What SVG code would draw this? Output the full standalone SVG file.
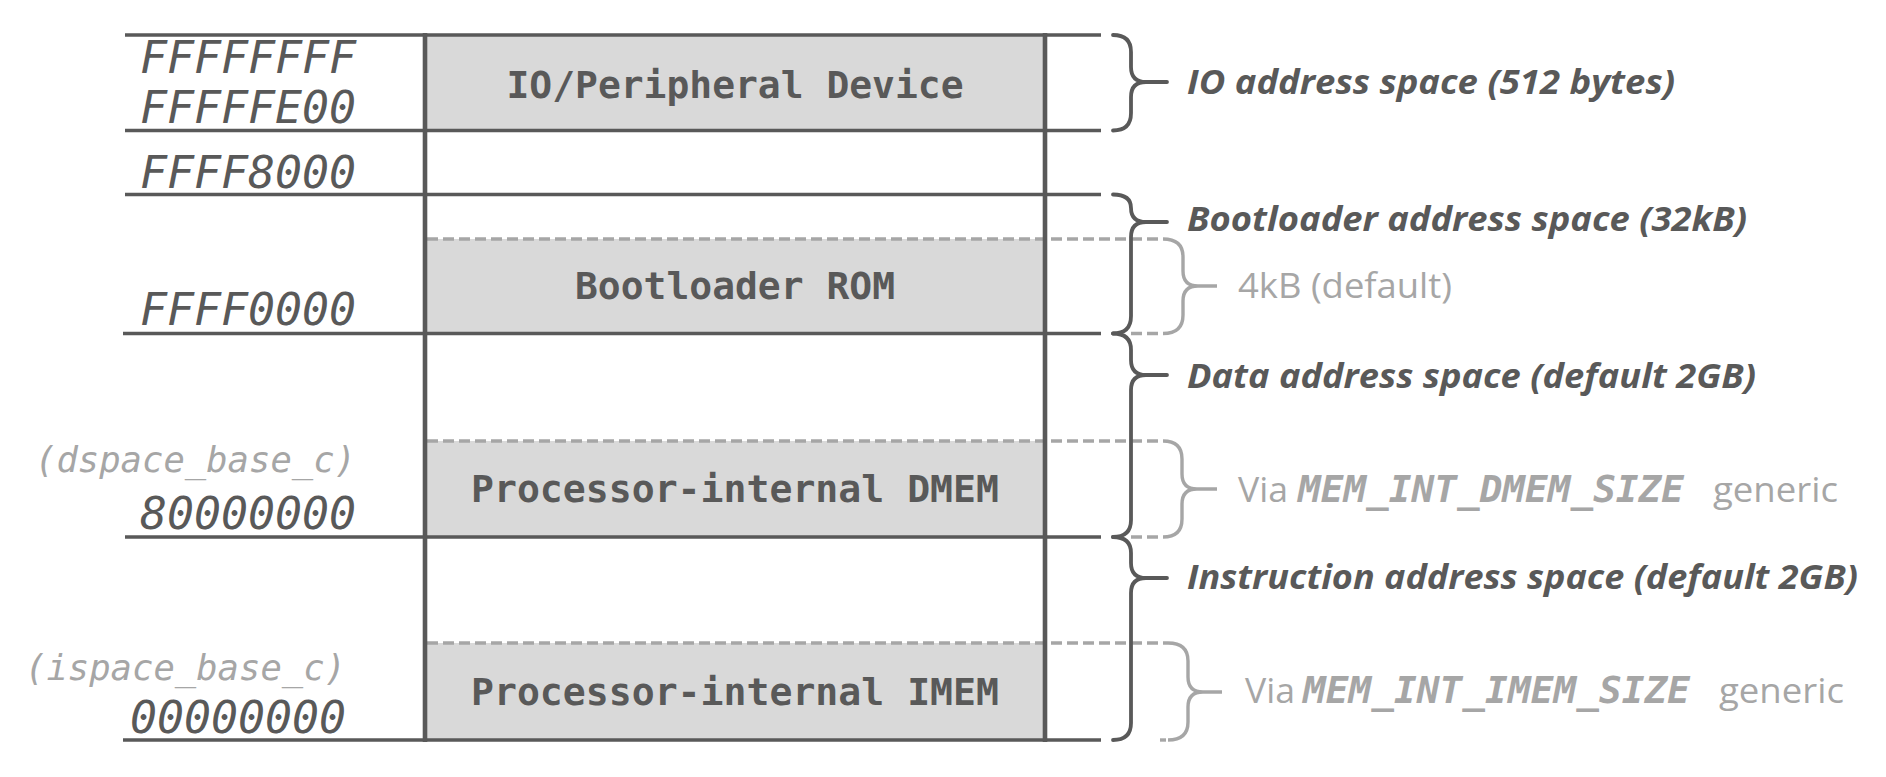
<svg xmlns="http://www.w3.org/2000/svg" width="1886" height="777" viewBox="0 0 1886 777">
<style>
.bg{fill:#ffffff}
.fill{fill:#d9d9d9;stroke:none}
.hl{stroke:#595959;stroke-width:3.6;fill:none}
.vl{stroke:#595959;stroke-width:4.6;fill:none}
.dash{stroke:#a6a6a6;stroke-width:3.4;fill:none;stroke-dasharray:11 5}
.brace{stroke:#595959;stroke-width:3.8;fill:none;stroke-linecap:round;stroke-linejoin:round}
.gbrace{stroke:#a6a6a6;stroke-width:3.4;fill:none;stroke-linecap:butt;stroke-linejoin:round}
.addr{font-family:"DejaVu Sans Mono","Liberation Mono",monospace;font-style:italic;font-size:44px;fill:#595959}
.gen{font-family:"DejaVu Sans Mono","Liberation Mono",monospace;font-style:italic;font-size:36px;fill:#a6a6a6}
.blk{font-family:"DejaVu Sans Mono","Liberation Mono",monospace;font-weight:bold;font-size:38px;fill:#595959;text-anchor:middle}
.lbl{font-family:"Open Sans","Noto Sans",sans-serif;font-weight:bold;font-style:italic;font-size:34px;fill:#595959}
.note{font-family:"Open Sans","Noto Sans",sans-serif;font-size:34px;fill:#a6a6a6}
.notem{font-family:"DejaVu Sans Mono","Liberation Mono",monospace;font-weight:bold;font-style:italic;font-size:37px;fill:#a6a6a6}
</style>
<rect class="bg" x="0" y="0" width="1886" height="777"/>

<g id="io-region">
  <rect class="fill" x="427" y="35" width="616" height="95.5"/>
  <text class="blk" x="735" y="98" textLength="457" lengthAdjust="spacingAndGlyphs">IO/Peripheral Device</text>
</g>
<g id="boot-region">
  <rect class="fill" x="427" y="239" width="616" height="94.5"/>
  <text class="blk" x="735" y="299" textLength="320" lengthAdjust="spacingAndGlyphs">Bootloader ROM</text>
</g>
<g id="dmem-region">
  <rect class="fill" x="427" y="441" width="616" height="96"/>
  <text class="blk" x="735" y="502" textLength="528" lengthAdjust="spacingAndGlyphs">Processor-internal DMEM</text>
</g>
<g id="imem-region">
  <rect class="fill" x="427" y="643" width="616" height="97"/>
  <text class="blk" x="735" y="705" textLength="528" lengthAdjust="spacingAndGlyphs">Processor-internal IMEM</text>
</g>

<g id="dashed-boundaries">
  <line class="dash" x1="427" y1="239" x2="1163" y2="239"/>
  <line class="dash" x1="427" y1="441" x2="1163" y2="441"/>
  <line class="dash" x1="427" y1="643" x2="1168" y2="643"/>
  <line class="dash" x1="1131" y1="333.5" x2="1163" y2="333.5" stroke-dasharray="8 5"/>
  <line class="dash" x1="1131" y1="537" x2="1163" y2="537" stroke-dasharray="8 5"/>
  <line class="dash" x1="1160" y1="740" x2="1166" y2="740" stroke-dasharray="none"/>
</g>

<g id="memory-map">
  <line class="hl" x1="125" y1="35" x2="1101" y2="35"/>
  <line class="hl" x1="125" y1="130.5" x2="1101" y2="130.5"/>
  <line class="hl" x1="125" y1="194.5" x2="1101" y2="194.5"/>
  <line class="hl" x1="123" y1="333.5" x2="1101" y2="333.5"/>
  <line class="hl" x1="125" y1="537" x2="1101" y2="537"/>
  <line class="hl" x1="123" y1="740" x2="1101" y2="740"/>
  <line class="vl" x1="425" y1="33" x2="425" y2="742"/>
  <line class="vl" x1="1045" y1="33" x2="1045" y2="742"/>
</g>

<g id="address-labels">
  <text class="addr" x="140" y="72.7" textLength="216" lengthAdjust="spacingAndGlyphs">FFFFFFFF</text>
  <text class="addr" x="140" y="123.3" textLength="216" lengthAdjust="spacingAndGlyphs">FFFFFE00</text>
  <text class="addr" x="140" y="188.3" textLength="216" lengthAdjust="spacingAndGlyphs">FFFF8000</text>
  <text class="addr" x="140" y="325" textLength="216" lengthAdjust="spacingAndGlyphs">FFFF0000</text>
  <text class="gen" x="35" y="471.7" textLength="321" lengthAdjust="spacingAndGlyphs">(dspace_base_c)</text>
  <text class="addr" x="140" y="529" textLength="216" lengthAdjust="spacingAndGlyphs">80000000</text>
  <text class="gen" x="25" y="680" textLength="321" lengthAdjust="spacingAndGlyphs">(ispace_base_c)</text>
  <text class="addr" x="130" y="732.7" textLength="216" lengthAdjust="spacingAndGlyphs">00000000</text>
</g>

<g id="connectors">
  <path class="brace" d="M1113,35 Q1131,35 1131,52 L1131,67 Q1131,82 1146,82 L1167,82 M1146,82 Q1131,82 1131,97 L1131,113 Q1131,130.5 1113,130.5"/>
  <path class="brace" d="M1113,194.5 Q1131,194.5 1131,208 Q1131,222 1146,222 L1167,222 M1146,222 Q1131,222 1131,237 L1131,316 Q1131,333.5 1113,333.5"/>
  <path class="brace" d="M1113,333.5 Q1131,333.5 1131,350 L1131,360 Q1131,375 1146,375 L1167,375 M1146,375 Q1131,375 1131,390 L1131,520 Q1131,537 1113,537"/>
  <path class="brace" d="M1113,537 Q1131,537 1131,553 L1131,563 Q1131,578 1146,578 L1167,578 M1146,578 Q1131,578 1131,593 L1131,723 Q1131,740 1113,740"/>
  <path class="gbrace" d="M1163,239 Q1183,239 1183,257 L1183,271 Q1183,286 1198,286 L1217,286 M1198,286 Q1183,286 1183,301 L1183,315 Q1183,333.5 1163,333.5"/>
  <path class="gbrace" d="M1163,441 Q1182,441 1182,459 L1182,474 Q1182,489 1197,489 L1217,489 M1197,489 Q1182,489 1182,504 L1182,519 Q1182,537 1163,537"/>
  <path class="gbrace" d="M1168,643 Q1188,643 1188,661 L1188,677 Q1188,692 1203,692 L1222,692 M1203,692 Q1188,692 1188,707 L1188,722 Q1188,740 1168,740"/>
</g>

<g id="space-labels">
  <text class="lbl" x="1187" y="94" textLength="488" lengthAdjust="spacingAndGlyphs">IO address space (512 bytes)</text>
  <text class="lbl" x="1187" y="231" textLength="560" lengthAdjust="spacingAndGlyphs">Bootloader address space (32kB)</text>
  <text class="note" x="1238" y="298" textLength="214" lengthAdjust="spacingAndGlyphs">4kB (default)</text>
  <text class="lbl" x="1187" y="388" textLength="569" lengthAdjust="spacingAndGlyphs">Data address space (default 2GB)</text>
  <text class="note" x="1238" y="502" textLength="50" lengthAdjust="spacingAndGlyphs">Via</text>
  <text class="notem" x="1298" y="502" textLength="386" lengthAdjust="spacingAndGlyphs">MEM_INT_DMEM_SIZE</text>
  <text class="note" x="1713" y="502" textLength="125" lengthAdjust="spacingAndGlyphs">generic</text>
  <text class="lbl" x="1187" y="589" textLength="671" lengthAdjust="spacingAndGlyphs">Instruction address space (default 2GB)</text>
  <text class="note" x="1245" y="703" textLength="50" lengthAdjust="spacingAndGlyphs">Via</text>
  <text class="notem" x="1303" y="703" textLength="387" lengthAdjust="spacingAndGlyphs">MEM_INT_IMEM_SIZE</text>
  <text class="note" x="1719" y="703" textLength="125" lengthAdjust="spacingAndGlyphs">generic</text>
</g>
</svg>
